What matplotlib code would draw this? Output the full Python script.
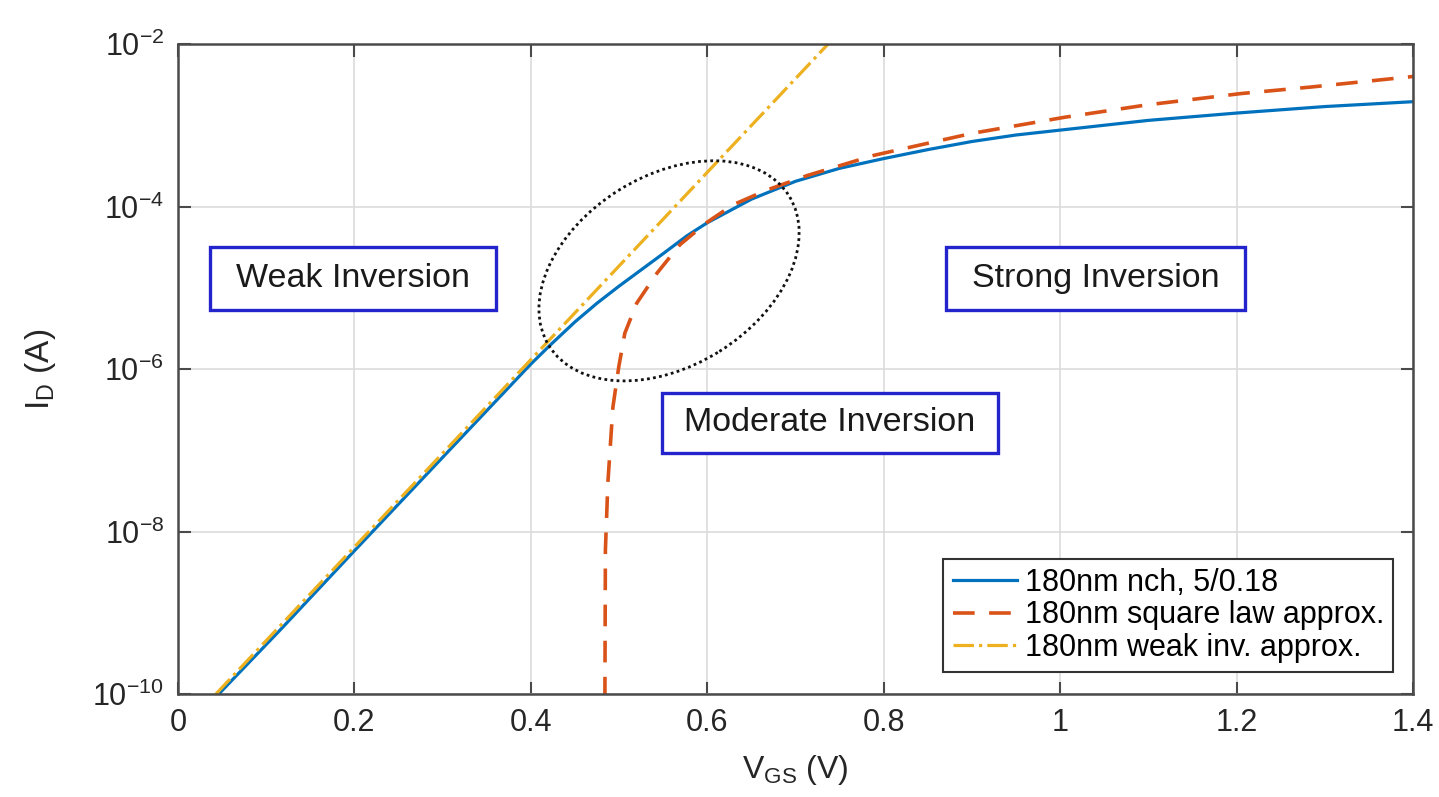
import numpy as np
import matplotlib
matplotlib.use("Agg")
import matplotlib.pyplot as plt
import matplotlib.transforms as mtransforms
from matplotlib.patches import Ellipse, Rectangle
from matplotlib.ticker import LogLocator, NullLocator

plt.rcParams['font.family'] = ['Liberation Sans', 'DejaVu Sans']
plt.rcParams['mathtext.fontset'] = 'custom'
plt.rcParams['mathtext.rm'] = 'Liberation Sans'
plt.rcParams['mathtext.it'] = 'Liberation Sans:italic'

# measured nch 5/0.18 curve (V, log10 of I in A)
vgs_meas = [0.048, 0.116, 0.198, 0.305, 0.399, 0.4215, 0.45, 0.475, 0.50, 0.525, 0.55, 0.577, 0.60,
            0.65, 0.70, 0.75, 0.80, 0.85, 0.90, 0.95, 1.00, 1.10, 1.20, 1.30, 1.40]
log_id_meas = [-9.98, -9.21, -8.26, -7.03, -5.95, -5.71, -5.42, -5.19, -4.98, -4.78, -4.58, -4.36, -4.20,
               -3.91, -3.69, -3.53, -3.41, -3.30, -3.20, -3.12, -3.06, -2.94, -2.85, -2.77, -2.71]

# square law approximation
vgs_sq = [0.4838, 0.4845, 0.4873, 0.493, 0.4997, 0.5065, 0.520, 0.543, 0.569, 0.599,
          0.629, 0.667, 0.713, 0.789, 0.900, 1.006, 1.098, 1.205, 1.284, 1.40]
log_id_sq = [-10.5, -8.23, -7.40, -6.47, -5.97, -5.56, -5.19, -4.82, -4.47, -4.20,
             -3.98, -3.80, -3.62, -3.37, -3.10, -2.90, -2.75, -2.61, -2.53, -2.40]

# weak inversion approximation (straight line on log axis)
vgs_wi = [0.043, 0.737]
log_id_wi = [-10.0, -2.0]

labels = ['180nm nch, 5/0.18', '180nm square law approx.', '180nm weak inv. approx.']
colors = ['#0072BD', '#D95319', '#EDB120']
xticks = [0, 0.2, 0.4, 0.6, 0.8, 1.0, 1.2, 1.4]
xticklabels = ['0', '0.2', '0.4', '0.6', '0.8', '1', '1.2', '1.4']

fig = plt.figure(figsize=(14.39, 7.97), dpi=100)
ax = fig.add_axes([178 / 1439, 1 - 694 / 797, 1235 / 1439, 650 / 797])

ax.plot(vgs_meas, np.power(10.0, log_id_meas), color=colors[0], lw=2.3, label=labels[0])
ax.plot(vgs_sq, np.power(10.0, log_id_sq), color=colors[1], lw=2.6, dashes=(6, 4), label=labels[1])
ax.plot(vgs_wi, np.power(10.0, log_id_wi), color=colors[2], lw=2.3, linestyle='-.', label=labels[2])

ax.set_yscale('log')
ax.set_xlim(0, 1.4)
ax.set_ylim(1e-10, 1e-2)
ax.set_xticks(xticks)
ax.set_xticklabels(xticklabels)
ax.yaxis.set_major_locator(LogLocator(base=100))
ax.yaxis.set_minor_locator(NullLocator())

ax.grid(True, color='#dcdcdc', lw=1.2)
ax.set_axisbelow(True)
for sp in ax.spines.values():
    sp.set_color('#4a4a4a')
    sp.set_linewidth(1.8)
ax.tick_params(direction='in', length=9, width=1.5, colors='#4a4a4a',
               labelcolor='#262626', labelsize=22, top=True, right=True, pad=10)

ax.set_xlabel('V$_{\\mathrm{GS}}$ (V)', fontsize=23, color='#262626', labelpad=11)
ax.set_ylabel('I$_{\\mathrm{D}}$ (A)', fontsize=24, color='#262626')
ax.yaxis.set_label_coords(-0.097, 0.50)

# region boxes
boxes = [
    ('Weak Inversion', 0.0259, 0.5908, 0.2316, 0.0969),
    ('Strong Inversion', 0.6219, 0.5908, 0.2421, 0.0969),
    ('Moderate Inversion', 0.3919, 0.3708, 0.2721, 0.0923),
]
for txt, x0, y0, w, h in boxes:
    ax.add_patch(Rectangle((x0, y0), w, h, transform=ax.transAxes, facecolor='white',
                           edgecolor='#2424cc', lw=2.4, zorder=5))
    ax.text(x0 + w / 2, y0 + h / 2, txt, transform=ax.transAxes, ha='center', va='center',
            fontsize=24.5, color='#1a1a1a', zorder=6)

# dotted ellipse around moderate inversion
trans = fig.dpi_scale_trans + mtransforms.ScaledTranslation(0.3976, 0.651, ax.transAxes)
ax.add_patch(Ellipse((0, 0), 2.83, 1.90, angle=32, transform=trans, fill=False,
                     edgecolor='#111111', lw=2.0, linestyle=(0, (1, 1.2)), zorder=7))

leg = ax.legend(loc='lower right', bbox_to_anchor=(0.984, 0.034), borderaxespad=0,
                fontsize=22, fancybox=False, framealpha=1, edgecolor='#333333',
                handlelength=2.1, handletextpad=0.26, labelspacing=0.08, borderpad=0.3)
leg.get_frame().set_linewidth(1.5)
leg.set_zorder(8)

fig.savefig('out.png', dpi=100)
